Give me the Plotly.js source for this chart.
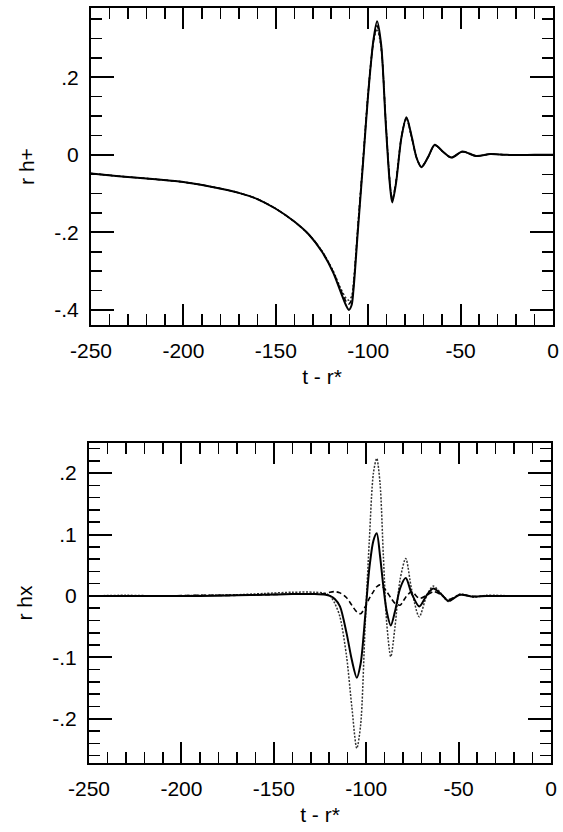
<!DOCTYPE html>
<html>
<head>
<meta charset="utf-8">
<script src="https://cdn.plot.ly/plotly-3.0.1.min.js"></script>
<style>html,body{margin:0;padding:0;background:#fff;}#chart{width:563px;height:832px;}</style>
</head>
<body>
<div id="chart"></div>
<script>
// ---- Top panel: r h+ ----
var tPlus = [-250,-235,-215,-200,-185,-170,-160,-150,-140,-132,-125,-119,-115,-112,-110.5,-109,-108,-105.5,-102.7,-100,-97.2,-95.2,-93,-90.5,-88.3,-87,-85,-82,-79.3,-76.5,-73.8,-71.2,-67.5,-64,-59.5,-55,-49,-41.5,-34,-25,-10,0];
var hPlusSolid = [-0.048,-0.055,-0.063,-0.070,-0.082,-0.098,-0.114,-0.139,-0.172,-0.206,-0.250,-0.303,-0.352,-0.388,-0.400,-0.388,-0.350,-0.190,-0.015,0.158,0.295,0.345,0.285,0.080,-0.075,-0.123,-0.075,0.045,0.097,0.048,-0.008,-0.032,-0.005,0.026,0.008,-0.007,0.009,-0.003,0.002,0,0,0];
var hPlusDashed = [-0.048,-0.055,-0.063,-0.070,-0.082,-0.098,-0.114,-0.139,-0.172,-0.206,-0.249,-0.301,-0.347,-0.378,-0.385,-0.374,-0.340,-0.182,-0.010,0.160,0.292,0.333,0.280,0.085,-0.070,-0.115,-0.070,0.047,0.095,0.046,-0.008,-0.031,-0.005,0.025,0.008,-0.007,0.008,-0.003,0.002,0,0,0];
var hPlusDotted = [-0.048,-0.055,-0.063,-0.070,-0.082,-0.098,-0.114,-0.139,-0.172,-0.206,-0.248,-0.299,-0.343,-0.370,-0.375,-0.365,-0.332,-0.178,-0.008,0.162,0.290,0.325,0.275,0.088,-0.068,-0.118,-0.072,0.046,0.093,0.045,-0.008,-0.030,-0.005,0.025,0.008,-0.007,0.008,-0.003,0.002,0,0,0];

// ---- Bottom panel: r hx ----
var tCross = [-250,-230,-210,-190,-170,-155,-140,-128,-122,-119.6,-117,-114.2,-110.6,-107.8,-105.1,-103,-100.6,-98.3,-96.1,-94.3,-92.5,-90.7,-88.9,-86.7,-84.4,-81.7,-78.6,-75.4,-71.3,-67.3,-63.7,-59.5,-55.6,-49.2,-42,-35,-20,0];
var hCrossSolid = [0,0,0,0,0.001,0.002,0.003,0.003,0.002,0,-0.005,-0.017,-0.061,-0.104,-0.133,-0.110,-0.035,0.045,0.090,0.102,0.065,0.015,-0.025,-0.048,-0.025,0.012,0.029,0.004,-0.017,0.001,0.012,0.003,-0.008,0.002,-0.001,0,0,0];
var hCrossDotted = [0,0.001,0,0.001,0.002,0.004,0.006,0.006,0.004,0,-0.012,-0.034,-0.099,-0.180,-0.248,-0.210,-0.050,0.091,0.200,0.224,0.183,0.064,-0.044,-0.099,-0.050,0.026,0.061,0.010,-0.034,0,0.016,0.004,-0.009,0.003,-0.002,0.001,0,0];
var hCrossDashed = [0,0,0,0.001,0.001,0.002,0.003,0.003,0.004,0.006,0.007,0.005,-0.003,-0.015,-0.026,-0.029,-0.018,-0.004,0.007,0.015,0.018,0.014,0.007,-0.003,-0.012,-0.015,-0.002,0.007,-0.004,0.001,0.007,0.002,-0.006,0.002,-0.001,0,0,0];

// ---- Tick labels ----
var xTickVals = [-250,-200,-150,-100,-50,0];
var xTickText = ['-250','-200','-150','-100','-50','0'];
var yTopTickVals = [-0.4,-0.2,0,0.2];
var yTopTickText = ['-.4','-.2','0','.2'];
var yBotTickVals = [-0.2,-0.1,0,0.1,0.2];
var yBotTickText = ['-.2','-.1','0','.1','.2'];

var W = 563, H = 832;
var FONT = {family: 'Liberation Sans, Arial, sans-serif', size: 21, color: '#000'};

function mk(x, y, dash, width, color, xa, ya, name) {
  return {x: x, y: y, type: 'scatter', mode: 'lines', name: name,
    xaxis: xa, yaxis: ya,
    line: {color: color, width: width, dash: dash, shape: 'spline', smoothing: 0.8},
    hoverinfo: 'skip', showlegend: false};
}

var traces = [
  mk(tPlus, hPlusDotted, '2px,2px', 1.5, '#333', 'x', 'y', 'dotted'),
  mk(tPlus, hPlusDashed, '5px,3px', 1.5, '#000', 'x', 'y', 'dashed'),
  mk(tPlus, hPlusSolid, 'solid', 2, '#000', 'x', 'y', 'solid'),
  mk(tCross, hCrossDotted, '2px,1.5px', 1.5, '#333', 'x2', 'y2', 'dotted'),
  mk(tCross, hCrossDashed, '5px,3px', 1.6, '#000', 'x2', 'y2', 'dashed'),
  mk(tCross, hCrossSolid, 'solid', 2, '#000', 'x2', 'y2', 'solid')
];

function xaxis(domain, anchor) {
  return {
    domain: domain, anchor: anchor, range: [-250, 0],
    tickmode: 'array', tickvals: xTickVals, ticktext: xTickText,
    ticks: 'inside', ticklen: 21, tickwidth: 2, tickcolor: '#000',
    minor: {tickmode: 'linear', tick0: 0, dtick: 10, ticks: 'inside', ticklen: 11, tickwidth: 1.5, tickcolor: '#000'},
    showline: true, linewidth: 2, linecolor: '#000', mirror: 'allticks',
    showgrid: false, zeroline: false, tickfont: FONT, ticklabelstandoff: 6,
    title: {text: 't - r*', font: FONT, standoff: 8}
  };
}
function yaxis(domain, anchor, range, tv, tt, minorStep, title) {
  return {
    domain: domain, anchor: anchor, range: range,
    tickmode: 'array', tickvals: tv, ticktext: tt,
    ticks: 'inside', ticklen: 23, tickwidth: 2, tickcolor: '#000',
    minor: {tickmode: 'linear', tick0: 0, dtick: minorStep, ticks: 'inside', ticklen: 11, tickwidth: 1.5, tickcolor: '#000'},
    showline: true, linewidth: 2, linecolor: '#000', mirror: 'allticks',
    showgrid: false, zeroline: false, tickfont: FONT, ticklabelstandoff: 6,
    title: {text: title, font: FONT, standoff: 14}
  };
}

var layout = {
  width: W, height: H,
  margin: {l: 0, r: 0, t: 0, b: 0},
  paper_bgcolor: '#fff', plot_bgcolor: '#fff',
  showlegend: false,
  xaxis: xaxis([91 / W, 553 / W], 'y'),
  yaxis: yaxis([1 - 325 / H, 1 - 8 / H], 'x', [-0.439, 0.379], yTopTickVals, yTopTickText, 0.05, 'r h+'),
  xaxis2: xaxis([89 / W, 551 / W], 'y2'),
  yaxis2: yaxis([1 - 763 / H, 1 - 443 / H], 'x2', [-0.272, 0.249], yBotTickVals, yBotTickText, 0.02, 'r hx')
};

Plotly.newPlot('chart', traces, layout, {staticPlot: true, displayModeBar: false});
</script>
</body>
</html>
